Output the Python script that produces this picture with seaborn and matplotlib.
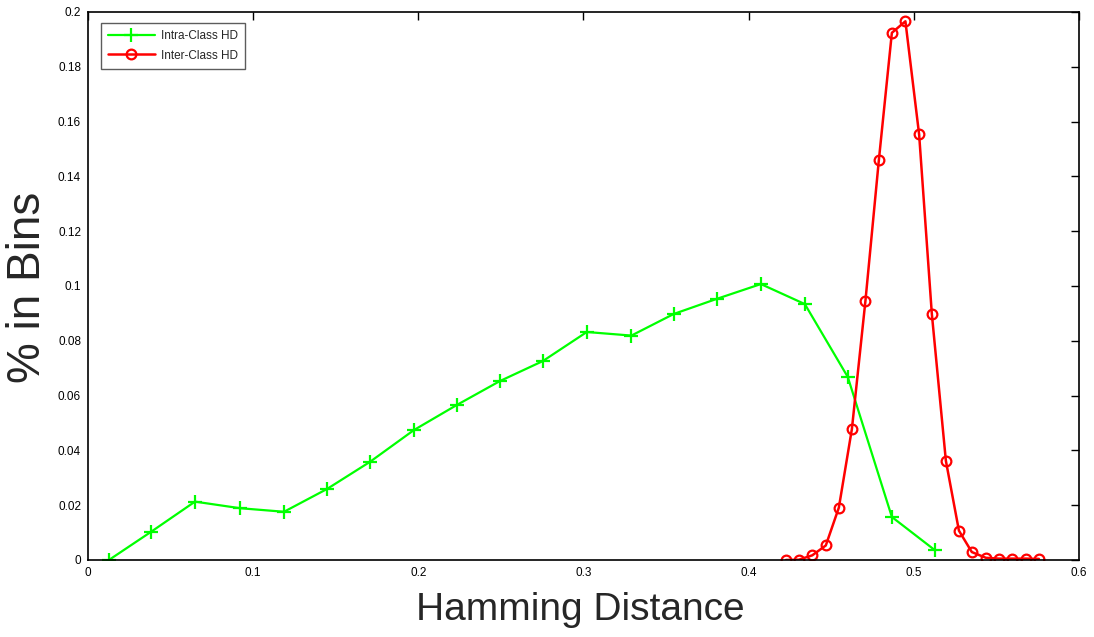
import matplotlib
matplotlib.use("Agg")
import matplotlib.pyplot as plt
import seaborn as sns
import pandas as pd

intra_x = [0.0127, 0.038, 0.0648, 0.092, 0.1187, 0.1447, 0.1707, 0.1973, 0.2234, 0.2494,
           0.2754, 0.302, 0.329, 0.3547, 0.3807, 0.4074, 0.434, 0.46, 0.4867, 0.5127]
intra_y = [0.0, 0.0102, 0.0213, 0.0189, 0.0176, 0.0259, 0.0358, 0.0474, 0.0566, 0.0653,
           0.0726, 0.0832, 0.0819, 0.0898, 0.0953, 0.1007, 0.0934, 0.0668, 0.0157, 0.0036]

inter_x = [0.4225, 0.4304, 0.4385, 0.4467, 0.4546, 0.4625, 0.4707, 0.4788, 0.4867, 0.4949,
           0.5032, 0.5109, 0.5194, 0.5273, 0.5351, 0.5436, 0.5515, 0.5597, 0.5677, 0.5757]
inter_y = [0.0, 0.0001, 0.0017, 0.0053, 0.0191, 0.0478, 0.0946, 0.1458, 0.1924, 0.1966,
           0.1553, 0.0898, 0.0362, 0.0107, 0.0029, 0.0008, 0.0005, 0.0005, 0.0005, 0.0004]

x_ticks = [0, 0.1, 0.2, 0.3, 0.4, 0.5, 0.6]
x_labels = ["0", "0.1", "0.2", "0.3", "0.4", "0.5", "0.6"]
y_ticks = [0, 0.02, 0.04, 0.06, 0.08, 0.1, 0.12, 0.14, 0.16, 0.18, 0.2]
y_labels = ["0", "0.02", "0.04", "0.06", "0.08", "0.1", "0.12", "0.14", "0.16", "0.18", "0.2"]

sns.set_style("white")
plt.rcParams['font.family'] = ['Liberation Sans', 'DejaVu Sans']
plt.rcParams['xtick.direction'] = 'in'
plt.rcParams['ytick.direction'] = 'in'

fig = plt.figure(figsize=(10.94, 6.37), dpi=100)
ax = fig.add_axes([0.0804, 0.1209, 0.9059, 0.8603])

df_intra = pd.DataFrame({"x": intra_x, "y": intra_y})
df_inter = pd.DataFrame({"x": inter_x, "y": inter_y})

sns.lineplot(data=df_intra, x="x", y="y", ax=ax, color="#00ff00", lw=1.6,
             marker="+", markersize=10, markeredgewidth=1.6, markeredgecolor="#00ff00",
             label="Intra-Class HD", estimator=None, sort=False)
sns.lineplot(data=df_inter, x="x", y="y", ax=ax, color="#ff0000", lw=1.8,
             marker="o", markersize=7, markerfacecolor="none", markeredgewidth=1.6,
             markeredgecolor="#ff0000", label="Inter-Class HD", estimator=None, sort=False)

ax.set_xlim(0, 0.6)
ax.set_ylim(0, 0.2)
ax.set_xticks(x_ticks)
ax.set_xticklabels(x_labels)
ax.set_yticks(y_ticks)
ax.set_yticklabels(y_labels)
ax.tick_params(axis="both", which="both", direction="in", length=6, width=1,
               labelsize=8.5, top=True, right=True, colors="black", pad=5)
for s in ax.spines.values():
    s.set_color("black")
    s.set_linewidth(1.2)

ax.set_xlabel("Hamming Distance", fontsize=28)
ax.set_ylabel("% in Bins", fontsize=33)
ax.xaxis.set_label_coords(0.4965, -0.058)
ax.yaxis.set_label_coords(-0.038, 0.497)

leg = ax.legend(loc="upper left", fontsize=8.5, frameon=True, fancybox=False,
                borderpad=0.6, handlelength=4, labelspacing=0.6, handletextpad=0.5,
                bbox_to_anchor=(0.007, 0.99))
leg.get_frame().set_edgecolor("#333333")
leg.get_frame().set_linewidth(1.0)

fig.savefig("out.png", dpi=100, facecolor="white")
